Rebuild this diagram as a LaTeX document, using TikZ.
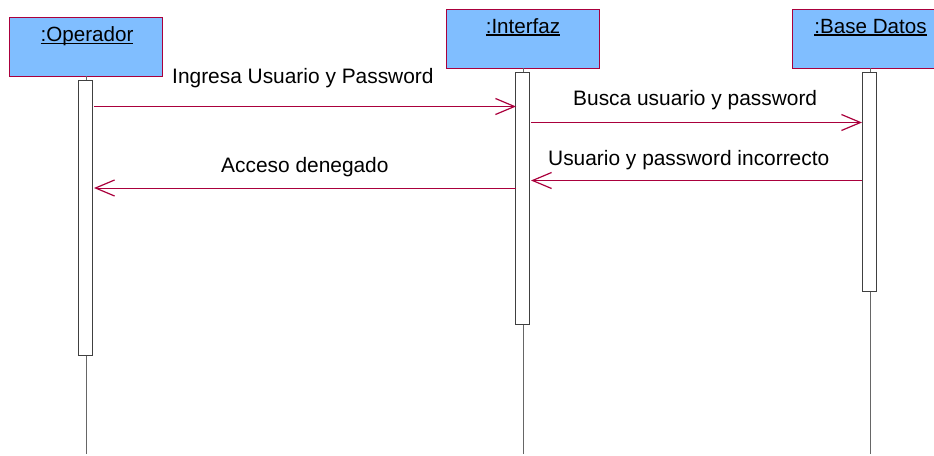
\documentclass[tikz,border=0pt]{standalone}
\usepackage{fontspec}
\setmainfont{Liberation Sans}
\usetikzlibrary{arrows.meta}
\definecolor{wine}{RGB}{170,0,60}
\definecolor{objblue}{RGB}{128,190,255}
\newcommand\lowul[1]{\setbox0=\hbox{#1}\rlap{\rule[-2.6pt]{\wd0}{1.1pt}}\box0}
\tikzset{
  x=1pt,y=-1pt,
  objbox/.style={draw=wine,fill=objblue,line width=1pt,minimum height=59pt,inner sep=0pt,anchor=north west},
  objlabel/.style={font=\fontsize{20.6}{22}\selectfont,text=black,inner sep=0pt,anchor=base},
  actbox/.style={draw=black!75,fill=white,line width=1pt,minimum width=14pt,inner sep=0pt,anchor=north},
  lifeline/.style={draw=black!60,line width=0.7pt},
  msg/.style={draw=wine,line width=1pt,-{Straight Barb[length=19pt,width=16pt,line width=1.2pt]}},
  msglabel/.style={font=\fontsize{20.9}{23}\selectfont,text=black,inner sep=0pt,anchor=base west},
}
\begin{document}
\begin{tikzpicture}
\useasboundingbox (0,0) rectangle (934,455);
% objects
\node[objbox,minimum width=153pt] (op) at (9,17) {};
\node[objbox,minimum width=153pt] (in) at (446,9) {};
\path[fill=objblue,draw=wine,line width=1pt] (934,9) -- (792,9) -- (792,68) -- (934,68);
\coordinate (ba) at (870,68);
\node[objlabel] at (87,41.5) {\lowul{:Operador}};
\node[objlabel] at (523,33) {\lowul{:Interfaz}};
\node[objlabel] at (870.5,33) {\lowul{:Base Datos}};
% lifelines
\coordinate (opend) at (86,454);
\coordinate (inend) at (523,454);
\coordinate (baend) at (870,454);
\coordinate (optop) at (86,76);
\coordinate (intop) at (523,68);
\draw[lifeline] (optop) -- (opend);
\draw[lifeline] (intop) -- (inend);
\draw[lifeline] (ba) -- (baend);
% activations
\node[actbox,minimum height=275pt] (opa) at (85.5,80) {};
\node[actbox,minimum height=252pt] (ina) at (522.7,72) {};
\node[actbox,minimum height=219pt] (baa) at (869,72) {};
% message end points
\coordinate (m1s) at (94,106.5);
\coordinate (m1e) at (516,106.5);
\coordinate (m2s) at (531,122.5);
\coordinate (m2e) at (862,122.5);
\coordinate (m3s) at (862,180.5);
\coordinate (m3e) at (531,180.5);
\coordinate (m4s) at (516,188);
\coordinate (m4e) at (94,188);
\draw[msg] (m1s) -- (m1e);
\draw[msg] (m2s) -- (m2e);
\draw[msg] (m3s) -- (m3e);
\draw[msg] (m4s) -- (m4e);
% message labels
\node[msglabel] (l1) at (172,83) {Ingresa Usuario y Password};
\node[msglabel] (l2) at (573,105) {Busca usuario y password};
\node[msglabel] (l3) at (548,165) {Usuario y password incorrecto};
\node[msglabel] (l4) at (221,172) {Acceso denegado};
\end{tikzpicture}
\end{document}
